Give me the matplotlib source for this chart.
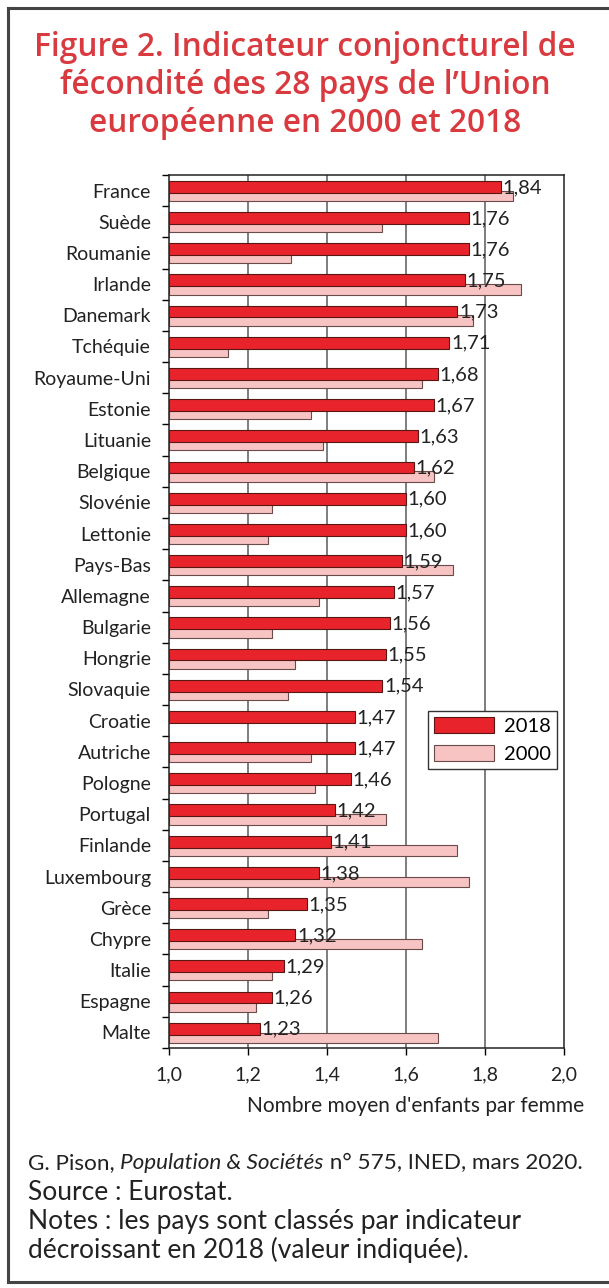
import numpy as np
import matplotlib.pyplot as plt
import matplotlib as mpl
from matplotlib.patches import Patch
from matplotlib.lines import Line2D

mpl.rcParams['font.family'] = ['Lato', 'DejaVu Sans']

# ── Données (ICF, Eurostat) ───────────────────────────────────────────────────
pays = ["France", "Suède", "Roumanie", "Irlande", "Danemark", "Tchéquie",
        "Royaume-Uni", "Estonie", "Lituanie", "Belgique", "Slovénie",
        "Lettonie", "Pays-Bas", "Allemagne", "Bulgarie", "Hongrie",
        "Slovaquie", "Croatie", "Autriche", "Pologne", "Portugal",
        "Finlande", "Luxembourg", "Grèce", "Chypre", "Italie", "Espagne",
        "Malte"]
icf_2018 = [1.84, 1.76, 1.76, 1.75, 1.73, 1.71, 1.68, 1.67, 1.63, 1.62,
            1.60, 1.60, 1.59, 1.57, 1.56, 1.55, 1.54, 1.47, 1.47, 1.46,
            1.42, 1.41, 1.38, 1.35, 1.32, 1.29, 1.26, 1.23]
icf_2000 = [1.87, 1.54, 1.31, 1.89, 1.77, 1.15, 1.64, 1.36, 1.39, 1.67,
            1.26, 1.25, 1.72, 1.38, 1.26, 1.32, 1.30, np.nan, 1.36, 1.37,
            1.55, 1.73, 1.76, 1.25, 1.64, 1.26, 1.22, 1.68]
xticks_val = [1.0, 1.2, 1.4, 1.6, 1.8, 2.0]
xticks_lab = ["1,0", "1,2", "1,4", "1,6", "1,8", "2,0"]

rouge = '#E8232B'
rose = '#F7C3C3'
titre_col = '#D93A3F'

W, H = 609, 1288
fig = plt.figure(figsize=(W / 100, H / 100), dpi=100)
ax = fig.add_axes([169 / W, 1 - 1048 / H, 395 / W, 873 / H])

y = np.arange(len(pays))
v18 = np.array(icf_2018)
v00 = np.array(icf_2000)

ax.barh(y + 0.17, v00 - 1.0, left=1.0, height=0.33, color=rose,
        edgecolor='#6b4a4a', linewidth=0.8, zorder=2)
ax.barh(y - 0.12, v18 - 1.0, left=1.0, height=0.38, color=rouge,
        edgecolor='#5a1515', linewidth=0.8, zorder=3)

for yi, v in zip(y, icf_2018):
    ax.text(v + 0.004, yi - 0.1, f"{v:.2f}".replace('.', ','), ha='left',
            va='center', fontsize=14.5, color='#222222', zorder=5)

ax.set_xlim(1.0, 2.0)
ax.set_ylim(len(pays) - 0.5, -0.5)

# grille verticale
for xv in xticks_val[1:-1]:
    ax.axvline(xv, color='#5a5a5a', linewidth=1.1, zorder=1)

ax.set_xticks(xticks_val)
ax.set_xticklabels(xticks_lab, fontsize=14, color='#222222')
ax.tick_params(axis='x', direction='out', length=5, width=1, pad=8)

ax.set_yticks(y)
ax.set_yticklabels(pays, fontsize=14, color='#222222')
ax.set_yticks(np.arange(-0.5, len(pays), 1.0), minor=True)
ax.tick_params(axis='y', which='major', length=0, pad=13)
ax.tick_params(axis='y', which='minor', direction='out', length=5, width=1)

for s in ax.spines.values():
    s.set_color('#222222')
    s.set_linewidth(1.1)

handles = [Patch(facecolor=rouge, edgecolor='#5a1515', linewidth=0.8, label='2018'),
           Patch(facecolor=rose, edgecolor='#6b4a4a', linewidth=0.8, label='2000')]
leg = ax.legend(handles=handles, loc='upper left', bbox_to_anchor=(0.655, 0.386),
                fontsize=14.5, frameon=True, fancybox=False, framealpha=1,
                edgecolor='#333333', handlelength=3.0, handleheight=0.85,
                handletextpad=0.5, labelspacing=0.5, borderpad=0.3,
                borderaxespad=0)
leg.get_frame().set_linewidth(1.0)

# ── Titre ─────────────────────────────────────────────────────────────────────
for ty, ligne in zip([47, 86, 124],
                     ["Figure 2. Indicateur conjoncturel de",
                      "fécondité des 28 pays de l’Union",
                      "européenne en 2000 et 2018"]):
    fig.text(305 / W, 1 - ty / H, ligne, ha='center', va='center',
             fontsize=22.8, fontweight='semibold', color=titre_col,
             family=['Open Sans', 'DejaVu Sans'])

fig.text(584 / W, 1 - 1106 / H, "Nombre moyen d'enfants par femme",
         ha='right', va='center', fontsize=15, color='#222222')

# ── Notes ─────────────────────────────────────────────────────────────────────
fig.canvas.draw()
rend = fig.canvas.get_renderer()
x0 = 28 / W
morceaux = [("G. Pison, ", 'normal'), ("Population & Sociétés", 'italic'),
            (" n° 575, INED, mars 2020.", 'normal')]
for txt, st in morceaux:
    t = fig.text(x0, 1 - 1163 / H, txt, ha='left', va='center', fontsize=16.2,
                 style=st, color='#222222')
    bb = t.get_window_extent(renderer=rend)
    x0 += bb.width / W

for ty, ligne in zip([1193, 1222, 1250],
                     ["Source : Eurostat.",
                      "Notes : les pays sont classés par indicateur",
                      "décroissant en 2018 (valeur indiquée)."]):
    fig.text(28 / W, 1 - ty / H, ligne, ha='left', va='center',
             fontsize=19, color='#222222')

# cadre extérieur
cadre = dict(color='#444444', linewidth=2.2, transform=fig.transFigure)
fig.add_artist(Line2D([8 / W, 8 / W], [1 - 8 / H, 1 - 1282 / H], **cadre))
fig.add_artist(Line2D([8 / W, 1.0], [1 - 8 / H, 1 - 8 / H], **cadre))
fig.add_artist(Line2D([8 / W, 1.0], [1 - 1282 / H, 1 - 1282 / H], **cadre))

fig.savefig('out.png', dpi=100)
